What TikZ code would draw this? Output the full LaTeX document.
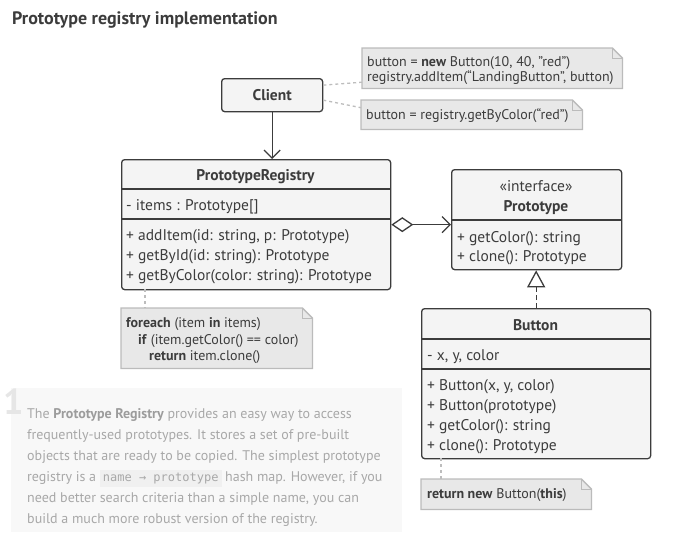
\documentclass[tikz,border=0pt]{standalone}
\usepackage{fontspec}
\setmainfont{PT Sans}
\newfontfamily\codefont{DejaVu Sans Mono}
\usetikzlibrary{arrows.meta,positioning}

\definecolor{ink}{HTML}{3C3C3C}
\definecolor{boxfill}{HTML}{F4F4F4}
\definecolor{notefill}{HTML}{E8E8E8}
\definecolor{noteedge}{HTML}{BBBBBB}
\definecolor{linkgray}{HTML}{BDBDBD}
\definecolor{paper}{HTML}{F8F8F8}
\definecolor{faint}{HTML}{A8A8A8}
\definecolor{faintbold}{HTML}{9C9C9C}
\definecolor{numgray}{HTML}{E6E6E6}
\definecolor{codebg}{HTML}{F0F0F0}

% outline of a note with a folded corner
\newcommand\notefold[1]{%
  \filldraw[fill=notefill, draw=noteedge, line width=1.3pt]
    (#1.north west) -- ([xshift=-10pt]#1.north east) -- ([yshift=-10pt]#1.north east)
    -- (#1.south east) -- (#1.south west) -- cycle;
  \draw[draw=noteedge, line width=1pt]
    ([xshift=-10pt]#1.north east) -- ([xshift=-10pt,yshift=-10pt]#1.north east)
    -- ([yshift=-10pt]#1.north east);}

\begin{document}
\begin{tikzpicture}[x=1pt, y=-1pt,
    every node/.style={inner sep=0pt, text=ink},
    uml/.style={draw=ink, line width=1.3pt, fill=boxfill, rounded corners=3pt, anchor=north west},
    notebox/.style={anchor=north west},
    member/.style={anchor=west, font=\fontsize{15.5}{18}\selectfont, text height=14.5pt, text depth=3pt},
    headtext/.style={member, anchor=center, font=\bfseries\fontsize{15.5}{18}\selectfont},
    notetext/.style={anchor=west, font=\fontsize{14}{16}\selectfont, text height=11.5pt, text depth=2.5pt},
    divider/.style={draw=ink, line width=1.3pt},
    notelink/.style={draw=linkgray, line width=1.3pt, dash pattern=on 3pt off 3pt},
    assoc/.style={draw=ink, line width=1.3pt, -{Straight Barb[length=8pt,width=16pt]}},
    aggr/.style={draw=ink, line width=1.3pt, {Diamond[open,length=22pt,width=15pt,fill=white]}-{Straight Barb[length=8pt,width=16pt]}},
    realize/.style={draw=ink, line width=1.3pt, dash pattern=on 5pt off 3pt, -{Triangle[open,length=17pt,width=18pt,fill=white]}}
  ]
  \useasboundingbox (0,0) rectangle (679,549);

  \node[anchor=base west, font=\bfseries\fontsize{18}{21}\selectfont] (heading) at (12,24) {Prototype registry implementation};

  % client and its notes
  \node[uml, minimum width=101, minimum height=33] (client) at (221,78) {};
  \node[headtext] (client-name) at (client.center) {Client};

  \node[notebox, minimum width=260, minimum height=40] (addnote) at (362,48) {};
  \notefold{addnote}
  \node[notetext] (addnote-a) at (367,62) {button = \textbf{new} Button(10, 40, "red")};
  \node[notetext] (addnote-b) at (367,77) {registry.addItem(“LandingButton”, button)};

  \node[notebox, minimum width=221, minimum height=29] (getnote) at (361,100) {};
  \notefold{getnote}
  \node[notetext] (getnote-a) at (366,115) {button = registry.getByColor(“red”)};

  \draw[notelink] ([yshift=10pt]client.east) -- ([yshift=-14pt]addnote.west);
  \draw[notelink] ([yshift=-5pt]client.east) -- ([yshift=7pt]getnote.west);

  % registry
  \node[uml, minimum width=269, minimum height=130] (reg) at (121,159) {};
  \draw[divider] (121,189) -- (390,189);
  \draw[divider] (121,219) -- (390,219);
  \node[headtext] (reg-name) at (255.5,175) {PrototypeRegistry};
  \node[member] (reg-items) at (126,205) {- items : Prototype[]};
  \node[member] (reg-add) at (126,235) {+ addItem(id: string, p: Prototype)};
  \node[member] (reg-byid) at (126,255) {+ getById(id: string): Prototype};
  \node[member] (reg-bycolor) at (126,275) {+ getByColor(color: string): Prototype};

  \draw[assoc] (client.south) -- (client.south |- reg.north);

  \node[notebox, minimum width=191, minimum height=60] (loopnote) at (121,308) {};
  \notefold{loopnote}
  \node[notetext] (loopnote-a) at (126,323) {\textbf{foreach} (item \textbf{in} items)};
  \node[notetext] (loopnote-b) at (138,340) {\textbf{if} (item.getColor() == color)};
  \node[notetext] (loopnote-c) at (149,356) {\textbf{return} item.clone()};
  \coordinate (reg-tag) at (145,289);
  \draw[notelink] (reg-tag) -- (reg-tag |- loopnote.north);

  % prototype interface
  \node[uml, minimum width=170, minimum height=100] (proto) at (451,169) {};
  \draw[divider] (451,220) -- (621,220);
  \node[member, anchor=center] (proto-tag) at (536,186) {«interface»};
  \node[headtext] (proto-name) at (536,206) {Prototype};
  \node[member] (proto-color) at (457,237) {+ getColor(): string};
  \node[member] (proto-clone) at (457,256) {+ clone(): Prototype};

  \draw[aggr] (reg.east) -- (reg.east -| proto.west);

  % button
  \node[uml, minimum width=229, minimum height=150] (button) at (421,308) {};
  \draw[divider] (421,339) -- (650,339);
  \draw[divider] (421,369) -- (650,369);
  \node[headtext] (button-name) at (535.5,325) {Button};
  \node[member] (button-fields) at (427,355) {- x, y, color};
  \node[member] (button-ctor) at (427,385) {+ Button(x, y, color)};
  \node[member] (button-copy) at (427,405) {+ Button(prototype)};
  \node[member] (button-color) at (427,425) {+ getColor(): string};
  \node[member] (button-clone) at (427,445) {+ clone(): Prototype};

  \draw[realize] (button.north) -- (button.north |- proto.south);

  \node[notebox, minimum width=170, minimum height=30] (clonenote) at (421,479) {};
  \notefold{clonenote}
  \node[notetext] (clonenote-a) at (427,494) {\textbf{return new} Button(\textbf{this})};
  \coordinate (button-tag) at (441,458);
  \draw[notelink] (button-tag) -- (button-tag |- clonenote.north);

  % explanation panel
  \node[fill=paper, minimum width=391, minimum height=144, anchor=north west] (panel) at (11,388) {};
  \node[anchor=north west, font=\bfseries\fontsize{36}{36}\selectfont, text=numgray] (panel-num) at (3,389) {1};
  \node[anchor=north west, align=left, font=\fontsize{14}{21}\selectfont, text=faint] (panel-text) at (27,408)
    {The \textcolor{faintbold}{\textbf{Prototype Registry}} provides an easy way to access\\
     frequently-used prototypes. It stores a set of pre-built\\
     objects that are ready to be copied. The simplest prototype\\
     registry is a {\setlength\fboxsep{3pt}\colorbox{codebg}{\codefont\fontsize{12}{12}\selectfont name → prototype}} hash map. However, if you\\
     need better search criteria than a simple name, you can\\
     build a much more robust version of the registry.};
\end{tikzpicture}
\end{document}
